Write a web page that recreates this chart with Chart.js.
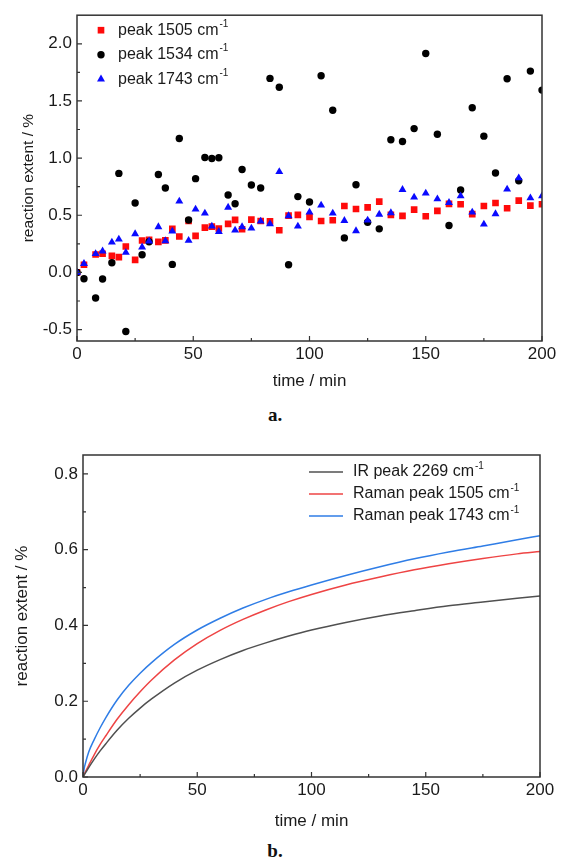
<!DOCTYPE html>
<html>
<head>
<meta charset="utf-8">
<title>Reaction extent vs time</title>
<script src="https://cdn.jsdelivr.net/npm/chart.js@4.4.1/dist/chart.umd.min.js"></script>
<style>
  body { margin: 0; background: #fff; }
  #page { position: relative; width: 563px; height: 865px; }
  .box { position: absolute; left: 0; width: 563px; }
  .cap { position: absolute; left: 0; width: 550px; text-align: center; line-height: 24px;
         font: bold 19px "Liberation Serif", "Times New Roman", serif; color: #111; }
</style>
</head>
<body>
<div id="page">
  <div class="box" style="top:0;height:400px"><canvas id="peaksChart"></canvas></div>
  <div class="cap" style="top:404px">a.</div>
  <div class="box" style="top:435px;height:405px"><canvas id="fitChart"></canvas></div>
  <div class="cap" style="top:840px">b.</div>
</div>
<script>
const times = [0, 3, 8, 11, 15, 18, 21, 25, 28, 31, 35, 38, 41, 44, 48, 51, 55, 58, 61, 65,
  68, 71, 75, 79, 83, 87, 91, 95, 100, 105, 110, 115, 120, 125, 130, 135, 140, 145, 150,
  155, 160, 165, 170, 175, 180, 185, 190, 195, 200];
const peak1505 = [0, 0.067, 0.157, 0.163, 0.145, 0.134, 0.227, 0.11, 0.279, 0.285, 0.267, 0.28,
  0.381, 0.314, 0.45, 0.32, 0.392, 0.40, 0.384, 0.424, 0.459, 0.378, 0.462, 0.45, 0.447, 0.369,
  0.497, 0.503, 0.486, 0.45, 0.456, 0.581, 0.555, 0.569, 0.619, 0.503, 0.494, 0.549, 0.491,
  0.538, 0.599, 0.596, 0.51, 0.581, 0.607, 0.561, 0.628, 0.584, 0.596];
const peak1534 = [0, -0.055, -0.224, -0.058, 0.085, 0.866, -0.517, 0.607, 0.154, 0.268, 0.857,
  0.738, 0.07, 1.171, 0.459, 0.82, 1.005, 0.997, 1.003, 0.677, 0.6, 0.9, 0.764, 0.738, 1.697,
  1.62, 0.067, 0.663, 0.616, 1.72, 1.418, 0.302, 0.767, 0.439, 0.381, 1.16, 1.145, 1.258, 1.915,
  1.209, 0.41, 0.721, 1.441, 1.192, 0.869, 1.694, 0.802, 1.761, 1.595];
const peak1743 = [0, 0.076, 0.163, 0.186, 0.264, 0.29, 0.174, 0.337, 0.221, 0.273, 0.398, 0.276,
  0.36, 0.622, 0.279, 0.552, 0.517, 0.404, 0.357, 0.569, 0.369, 0.398, 0.386, 0.447, 0.424, 0.88,
  0.494, 0.404, 0.526, 0.587, 0.517, 0.453, 0.363, 0.456, 0.508, 0.52, 0.724, 0.657, 0.692,
  0.642, 0.61, 0.668, 0.526, 0.421, 0.512, 0.727, 0.826, 0.651, 0.668];
const peakLabels = ['peak 1505 cm', 'peak 1534 cm', 'peak 1743 cm'];
const timeTicks = [0, 50, 100, 150, 200];
const extentTicksA = [-0.5, 0, 0.5, 1, 1.5, 2];

// Panel b: fitted curves (sampled off the figure)
const fitTimes = [0, 0.5, 1, 2.5, 5, 7.5, 10, 15, 20, 25, 30, 40, 50, 60, 70, 80, 90, 100,
  115, 130, 145, 160, 175, 190, 200];
const irFit2269 = [0, 0.005, 0.010, 0.025, 0.048, 0.069, 0.088, 0.124, 0.155, 0.182, 0.206, 0.248,
  0.282, 0.310, 0.334, 0.354, 0.372, 0.388, 0.408, 0.425, 0.439, 0.452, 0.462, 0.472, 0.478];
const ramanFit1505 = [0, 0.007, 0.013, 0.031, 0.060, 0.086, 0.109, 0.153, 0.191, 0.225, 0.256, 0.309,
  0.352, 0.387, 0.416, 0.441, 0.463, 0.482, 0.507, 0.528, 0.547, 0.563, 0.577, 0.589, 0.595];
const ramanFit1743 = [0, 0.022, 0.035, 0.066, 0.100, 0.130, 0.157, 0.204, 0.242, 0.274, 0.302, 0.350,
  0.388, 0.419, 0.446, 0.469, 0.489, 0.507, 0.532, 0.555, 0.576, 0.594, 0.610, 0.626, 0.637];
const fitLabels = ['IR peak 2269 cm', 'Raman peak 1505 cm', 'Raman peak 1743 cm'];
const extentTicksB = [0, 0.2, 0.4, 0.6, 0.8];

const FONT = '"Liberation Sans", Arial, sans-serif';
const TEXT = '#1a1a1a';

function toPoints(xs, ys) {
  return xs.map((x, i) => ({ x: x, y: ys[i] }));
}

// Box frame round the plot plus inward major/minor ticks on bottom and left
const frameTicks = {
  id: 'frameTicks',
  afterDatasetsDraw(chart) {
    const { ctx, chartArea: a, scales } = chart;
    ctx.save();
    ctx.strokeStyle = '#333';
    ctx.lineWidth = 1.5;
    ctx.strokeRect(a.left, a.top, a.right - a.left, a.bottom - a.top);
    ctx.lineWidth = 1.2;
    ctx.beginPath();
    [scales.x, scales.y].forEach(scale => {
      const vals = scale.ticks.map(t => t.value);
      const marks = vals.map(v => [v, 5]);
      for (let i = 0; i < vals.length - 1; i++) marks.push([(vals[i] + vals[i + 1]) / 2, 3]);
      marks.forEach(([v, len]) => {
        const p = scale.getPixelForValue(v);
        if (scale.isHorizontal()) {
          ctx.moveTo(p, a.bottom); ctx.lineTo(p, a.bottom - len);
        } else {
          ctx.moveTo(a.left, p); ctx.lineTo(a.left + len, p);
        }
      });
    });
    ctx.stroke();
    ctx.restore();
  }
};

function drawMarker(ctx, style, x, y, r, color) {
  ctx.fillStyle = color;
  ctx.beginPath();
  if (style === 'rect') {
    const s = r * Math.SQRT1_2;
    ctx.rect(x - s, y - s, 2 * s, 2 * s);
  } else if (style === 'triangle') {
    const h = r * Math.sqrt(3) / 2;
    ctx.moveTo(x, y - r);
    ctx.lineTo(x + h, y + r / 2);
    ctx.lineTo(x - h, y + r / 2);
    ctx.closePath();
  } else {
    ctx.arc(x, y, r, 0, Math.PI * 2);
  }
  ctx.fill();
}

// Legend drawn inside the plot area, with a "-1" superscript after each label
const insideLegend = {
  id: 'insideLegend',
  afterDraw(chart, args, opts) {
    const { ctx, chartArea: a } = chart;
    ctx.save();
    ctx.textBaseline = 'middle';
    chart.data.datasets.forEach((ds, i) => {
      const y = a.top + opts.top + i * opts.step;
      const mx = a.left + opts.markX;
      if (opts.lines) {
        ctx.strokeStyle = ds.borderColor;
        ctx.lineWidth = ds.borderWidth;
        ctx.beginPath();
        ctx.moveTo(mx, y); ctx.lineTo(mx + opts.lineLen, y);
        ctx.stroke();
      } else {
        drawMarker(ctx, ds.pointStyle, mx, y, ds.pointRadius, ds.backgroundColor);
      }
      const tx = a.left + opts.textX;
      ctx.fillStyle = TEXT;
      ctx.font = '16px ' + FONT;
      ctx.fillText(ds.label, tx, y);
      const w = ctx.measureText(ds.label).width;
      ctx.font = '10px ' + FONT;
      ctx.fillText('-1', tx + w + 1, y - 6);
    });
    ctx.restore();
  }
};

function axes(xTicks, yTicks, yMin, yMax, yWidth, xHeight, yTitleSize, yTitlePad) {
  return {
    x: {
      type: 'linear', min: 0, max: 200,
      afterBuildTicks: s => { s.ticks = xTicks.map(v => ({ value: v })); },
      afterFit: s => { s.height = xHeight; },
      grid: { display: false, drawTicks: false },
      border: { display: false },
      ticks: { color: TEXT, padding: 3, font: { family: FONT, size: 17 }, maxRotation: 0 },
      title: { display: true, text: 'time / min', color: TEXT,
               font: { family: FONT, size: 17 }, padding: { top: 0, bottom: 8 } }
    },
    y: {
      type: 'linear', min: yMin, max: yMax,
      afterBuildTicks: s => { s.ticks = yTicks.map(v => ({ value: v })); },
      afterFit: s => { s.width = yWidth; },
      grid: { display: false, drawTicks: false },
      border: { display: false },
      ticks: { color: TEXT, padding: 5, font: { family: FONT, size: 17 },
               callback: v => v.toFixed(1) },
      title: { display: true, text: 'reaction extent / %', color: TEXT,
               font: { family: FONT, size: yTitleSize }, padding: { top: yTitlePad, bottom: 0 } }
    }
  };
}

// Scatter chart of the three peaks
const ctxPeaks = document.getElementById('peaksChart').getContext('2d');
const peaksChart = new Chart(ctxPeaks, {
  type: 'scatter',
  data: {
    datasets: [
      { label: peakLabels[0], data: toPoints(times, peak1505), pointStyle: 'rect', pointRadius: 4.7,
        backgroundColor: '#ff0a0a', borderWidth: 0, order: 3, clip: 0 },
      { label: peakLabels[1], data: toPoints(times, peak1534), pointStyle: 'circle', pointRadius: 3.7,
        backgroundColor: '#000000', borderWidth: 0, order: 2, clip: 0 },
      { label: peakLabels[2], data: toPoints(times, peak1743), pointStyle: 'triangle', pointRadius: 4.6,
        backgroundColor: '#0a0aff', borderWidth: 0, order: 1, clip: 0 }
    ]
  },
  options: {
    responsive: true,
    maintainAspectRatio: false,
    animation: false,
    layout: { padding: { top: 14, right: 21, left: 0, bottom: 0 } },
    scales: axes(timeTicks, extentTicksA, -0.6, 2.25, 77, 59, 15.5, 19),
    plugins: {
      legend: { display: false },
      tooltip: { enabled: false },
      insideLegend: { top: 15, step: 24.5, markX: 24, textX: 41 }
    }
  },
  plugins: [frameTicks, insideLegend]
});

// Fitted curves
const ctxFit = document.getElementById('fitChart').getContext('2d');
const fitChart = new Chart(ctxFit, {
  type: 'scatter',
  data: {
    datasets: [
      { label: fitLabels[0], data: toPoints(fitTimes, irFit2269), borderColor: '#505050' },
      { label: fitLabels[1], data: toPoints(fitTimes, ramanFit1505), borderColor: '#ee4444' },
      { label: fitLabels[2], data: toPoints(fitTimes, ramanFit1743), borderColor: '#2f7de6' }
    ].map(ds => Object.assign(ds, {
      showLine: true, pointRadius: 0, borderWidth: 1.5, fill: false,
      cubicInterpolationMode: 'monotone', clip: 0
    }))
  },
  options: {
    responsive: true,
    maintainAspectRatio: false,
    animation: false,
    layout: { padding: { top: 20, right: 23, left: 0, bottom: 0 } },
    scales: axes(timeTicks, extentTicksB, 0, 0.85, 83, 63, 17, 12),
    plugins: {
      legend: { display: false },
      tooltip: { enabled: false },
      insideLegend: { lines: true, top: 17, step: 22, markX: 226, lineLen: 34, textX: 270 }
    }
  },
  plugins: [frameTicks, insideLegend]
});
</script>
</body>
</html>
